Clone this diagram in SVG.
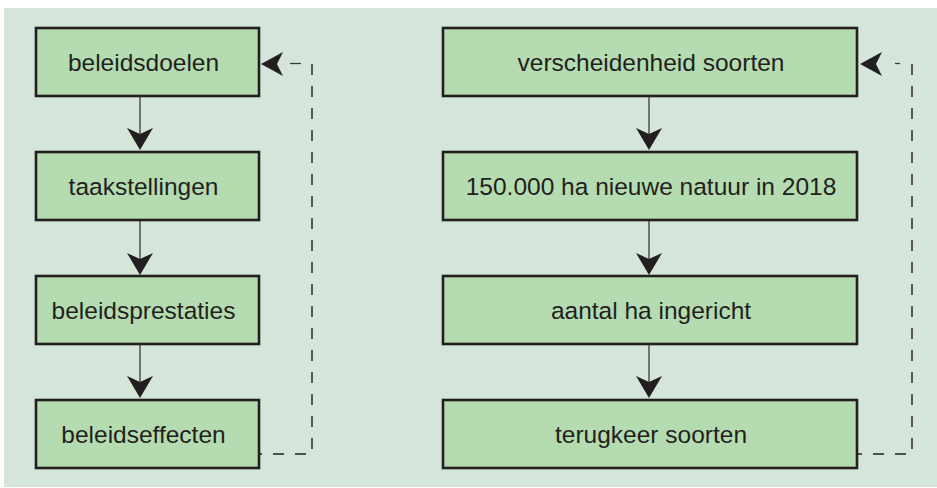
<svg xmlns="http://www.w3.org/2000/svg" width="937" height="488" viewBox="0 0 937 488">
<style>
.box{fill:#b5dbb0;stroke:#231f20;stroke-width:2.6}
.lbl{font-family:"Liberation Sans",Arial,sans-serif;font-size:24.5px;fill:#231f20;text-anchor:middle}
.ln{stroke:#3a3a3a;stroke-width:1.3;fill:none}
.dash{stroke:#231f20;stroke-width:1.4;fill:none;stroke-dasharray:11 11}
.ah{fill:#231f20}
</style>
<defs>
<path id="down" d="M0 0 L-13 -22 L0 -16 L13 -22 Z"/>
<path id="left" d="M0 0 L22 -12 L16 0 L22 12 Z"/>
</defs>
<rect x="4" y="8" width="933" height="479" fill="#d5e5da"/>
<g id="connectors">
<line class="ln" x1="140" y1="96" x2="140" y2="140"/>
<use href="#down" class="ah" x="140" y="150"/>
<line class="ln" x1="140" y1="220" x2="140" y2="265"/>
<use href="#down" class="ah" x="140" y="275"/>
<line class="ln" x1="140" y1="344" x2="140" y2="388"/>
<use href="#down" class="ah" x="140" y="398"/>
<line class="ln" x1="649" y1="96" x2="649" y2="140"/>
<use href="#down" class="ah" x="649" y="150"/>
<line class="ln" x1="649" y1="220" x2="649" y2="265"/>
<use href="#down" class="ah" x="649" y="275"/>
<line class="ln" x1="649" y1="344" x2="649" y2="388"/>
<use href="#down" class="ah" x="649" y="398"/>
<path class="dash" d="M312 64 V454 H260"/>
<path class="ln" d="M290 63.5 H301"/>
<use href="#left" class="ah" x="261" y="64"/>
<path class="dash" d="M912 64 V454 H858"/>
<path class="ln" d="M895 63.5 H900"/>
<use href="#left" class="ah" x="860" y="64"/>
</g>
<g id="n1"><rect class="box" x="36" y="28" width="223" height="68"/><text class="lbl" x="143.5" y="71">beleidsdoelen</text></g>
<g id="n2"><rect class="box" x="36" y="152" width="223" height="68"/><text class="lbl" x="143.5" y="195">taakstellingen</text></g>
<g id="n3"><rect class="box" x="36" y="276" width="223" height="68"/><text class="lbl" x="143.5" y="319">beleidsprestaties</text></g>
<g id="n4"><rect class="box" x="36" y="400" width="223" height="68"/><text class="lbl" x="143.5" y="443">beleidseffecten</text></g>
<g id="n5"><rect class="box" x="443" y="28" width="414" height="68"/><text class="lbl" x="651" y="71">verscheidenheid soorten</text></g>
<g id="n6"><rect class="box" x="443" y="152" width="414" height="68"/><text class="lbl" x="651" y="195">150.000 ha nieuwe natuur in 2018</text></g>
<g id="n7"><rect class="box" x="443" y="276" width="414" height="68"/><text class="lbl" x="651" y="319">aantal ha ingericht</text></g>
<g id="n8"><rect class="box" x="443" y="400" width="414" height="68"/><text class="lbl" x="651" y="443">terugkeer soorten</text></g>
</svg>
